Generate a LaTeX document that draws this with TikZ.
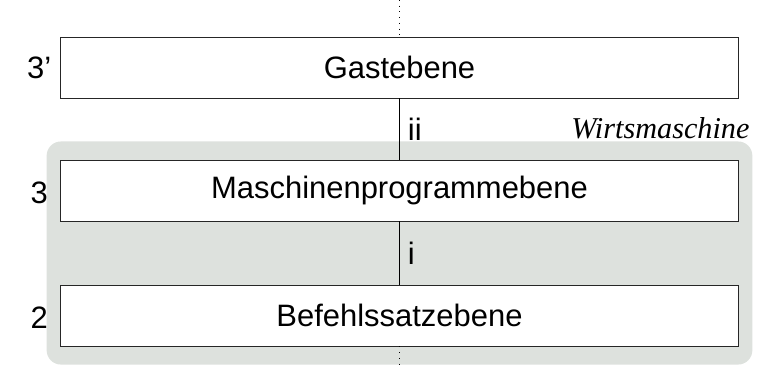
\documentclass[tikz,border=0pt]{standalone}
\usepackage{fontspec}
\setmainfont{Liberation Sans}
\newfontfamily\wirtfont{Liberation Serif}
\usepackage{tikz}
\usetikzlibrary{positioning,backgrounds,fit}
\definecolor{wirtgrau}{RGB}{221,225,221}
\tikzset{dots/.style={draw, dotted, thin}}

\begin{document}
\begin{tikzpicture}[x=0.42pt, y=-0.42pt, thin, font=\fontsize{13}{15}\selectfont,
  level/.style = {draw=black!85, fill=white, minimum width=285pt, minimum height=25.6pt, inner sep=0pt}]
\useasboundingbox (0,0) rectangle (758,372);
\node[level] (gast) at (399.5,67.5) {Gastebene};
\node[level] (masch) at (399.5,190.5) {Maschinenprogrammebene};
\node[level] (befehl) at (399.5,315.5) {Befehlssatzebene};
\node[left=0pt of gast] (n3s) {3'};
\node[left=1.5pt of masch, yshift=-1pt] (n3) {3};
\node[left=1.5pt of befehl, yshift=-1pt] (n2) {2};
\coordinate (oben) at (399.5,0);
\coordinate (unten) at (399.5,366);
\draw[dots] (oben) -- (gast);
\draw (gast) -- node[right] {ii} (masch);
\draw (masch) -- node[right] {i} (befehl);
\draw[dots] (befehl) -- (unten);
\begin{scope}[on background layer]
\node[fit=(masch)(befehl), fill=wirtgrau, rounded corners=6pt, inner xsep=5.5pt, inner ysep=7.6pt] (wirt) {};
\end{scope}
\node[anchor=base east, inner sep=0pt, font=\fontsize{12.7}{15}\wirtfont\itshape] (wirtlabel) at (750,138) {Wirtsmaschine};
\end{tikzpicture}
\end{document}
